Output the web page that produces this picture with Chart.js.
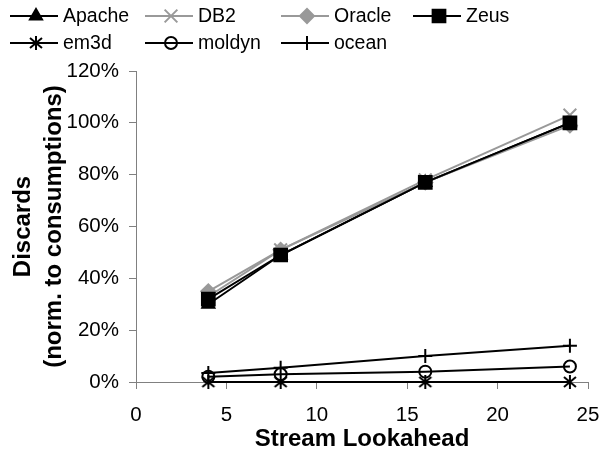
<!DOCTYPE html>
<html lang="en">
<head>
    <meta charset="UTF-8">
    <title>Discards vs Stream Lookahead</title>
    <script src="https://cdn.jsdelivr.net/npm/chart.js"></script>
    <style>
        html, body { margin: 0; padding: 0; background: #fff; }
        #wrap { width: 600px; height: 451px; }
    </style>
</head>
<body>
<div id="wrap"><canvas id="discardsChart" width="600" height="451"></canvas></div>
<script>
    // lookahead values on the x axis
    const lookahead = [4, 8, 16, 24];

    // discards, % of consumptions
    const apache = [30, 49, 77, 100];
    const db2 = [33, 51, 78, 103];
    const oracle = [35, 51, 77, 99];
    const zeus = [32, 49, 77, 100];
    const em3d = [0, 0, 0, 0];
    const moldyn = [2, 3, 4, 6];
    const ocean = [3.5, 5.5, 10, 14];

    const seriesNames = ['Apache', 'DB2', 'Oracle', 'Zeus', 'em3d', 'moldyn', 'ocean'];
    const seriesValues = [apache, db2, oracle, zeus, em3d, moldyn, ocean];

    // asterisk marker (vertical bar + X), like the Excel one
    function makeAsterisk() {
        const c = document.createElement('canvas');
        c.width = 16;
        c.height = 16;
        const g = c.getContext('2d');
        g.strokeStyle = '#000';
        g.lineWidth = 2;
        g.beginPath();
        g.moveTo(8, 1); g.lineTo(8, 15);
        g.moveTo(2, 3); g.lineTo(14, 13);
        g.moveTo(14, 3); g.lineTo(2, 13);
        g.stroke();
        return c;
    }

    const looks = [
        { color: '#000000', pointStyle: 'triangle', radius: 7, fill: '#000000' },
        { color: '#999999', pointStyle: 'crossRot', radius: 9, fill: '#999999' },
        { color: '#999999', pointStyle: 'rectRot', radius: 7, fill: '#999999' },
        { color: '#000000', pointStyle: 'rect', radius: 9, fill: '#000000' },
        { color: '#000000', pointStyle: makeAsterisk(), radius: 8, fill: '#000000' },
        { color: '#000000', pointStyle: 'circle', radius: 6, fill: 'rgba(0,0,0,0)' },
        { color: '#000000', pointStyle: 'cross', radius: 7, fill: '#000000' }
    ];

    const datasets = seriesNames.map((name, i) => ({
        label: name,
        data: lookahead.map((x, j) => ({ x: x, y: seriesValues[i][j] })),
        borderColor: looks[i].color,
        backgroundColor: looks[i].fill,
        pointBorderColor: looks[i].color,
        pointBackgroundColor: looks[i].fill,
        pointStyle: looks[i].pointStyle,
        pointRadius: looks[i].radius,
        pointBorderWidth: 2,
        borderWidth: 2,
        tension: 0,
        clip: false,
        order: seriesNames.length - i
    }));

    // legend drawn by hand: two rows, line sample with marker in the middle
    const legendPlugin = {
        id: 'boxLegend',
        afterDraw(chart) {
            const ctx = chart.ctx;
            const cols = [10, 145, 281, 413];
            const rows = [16, 43];
            ctx.save();
            chart.data.datasets.forEach((ds, i) => {
                const x = cols[i < 4 ? i : i - 4];
                const y = rows[i < 4 ? 0 : 1];
                ctx.strokeStyle = ds.borderColor;
                ctx.lineWidth = 2;
                ctx.beginPath();
                ctx.moveTo(x, y);
                ctx.lineTo(x + 48, y);
                ctx.stroke();
                ctx.fillStyle = ds.pointBackgroundColor;
                ctx.strokeStyle = ds.pointBorderColor;
                Chart.helpers.drawPoint(ctx, {
                    pointStyle: ds.pointStyle,
                    radius: ds.pointRadius,
                    rotation: 0,
                    borderWidth: 2
                }, x + 26, y);
                ctx.fillStyle = '#000';
                ctx.font = '19.5px "Liberation Sans", Arial, sans-serif';
                ctx.textBaseline = 'middle';
                ctx.fillText(ds.label, x + 53, y + 1);
            });
            ctx.restore();
        }
    };

    const ctx = document.getElementById('discardsChart').getContext('2d');
    new Chart(ctx, {
        type: 'line',
        data: { datasets: datasets },
        plugins: [legendPlugin],
        options: {
            responsive: false,
            animation: false,
            layout: { padding: { top: 71, right: 0, left: 8, bottom: 0 } },
            plugins: {
                legend: { display: false },
                tooltip: { enabled: false }
            },
            scales: {
                x: {
                    type: 'linear',
                    min: 0,
                    max: 25,
                    afterFit: (scale) => {
                        scale.height = 69;
                        scale.paddingRight = 12;
                    },
                    ticks: {
                        stepSize: 5,
                        color: '#000',
                        padding: 14,
                        maxRotation: 0,
                        font: { family: '"Liberation Sans", Arial, sans-serif', size: 20.5 }
                    },
                    grid: { drawOnChartArea: false, drawTicks: true, tickLength: 7, color: '#808080', lineWidth: 1 },
                    border: { color: '#808080', width: 1 },
                    title: {
                        display: true,
                        text: 'Stream Lookahead',
                        color: '#000',
                        padding: { top: 0, bottom: 0 },
                        font: { family: '"Liberation Sans", Arial, sans-serif', size: 24, weight: 'bold', lineHeight: 1.0 }
                    }
                },
                y: {
                    min: 0,
                    max: 120,
                    afterFit: (scale) => { scale.width = 128; },
                    ticks: {
                        stepSize: 20,
                        color: '#000',
                        padding: 10,
                        callback: (v) => v + '%',
                        font: { family: '"Liberation Sans", Arial, sans-serif', size: 20.5 }
                    },
                    grid: { drawOnChartArea: false, drawTicks: true, tickLength: 7, color: '#808080', lineWidth: 1 },
                    border: { color: '#808080', width: 1 },
                    title: {
                        display: true,
                        text: ['Discards', '(norm. to consumptions)'],
                        color: '#000',
                        padding: { top: 0, bottom: 0 },
                        font: { family: '"Liberation Sans", Arial, sans-serif', size: 24, weight: 'bold', lineHeight: 1.29 }
                    }
                }
            }
        }
    });
</script>
</body>
</html>
